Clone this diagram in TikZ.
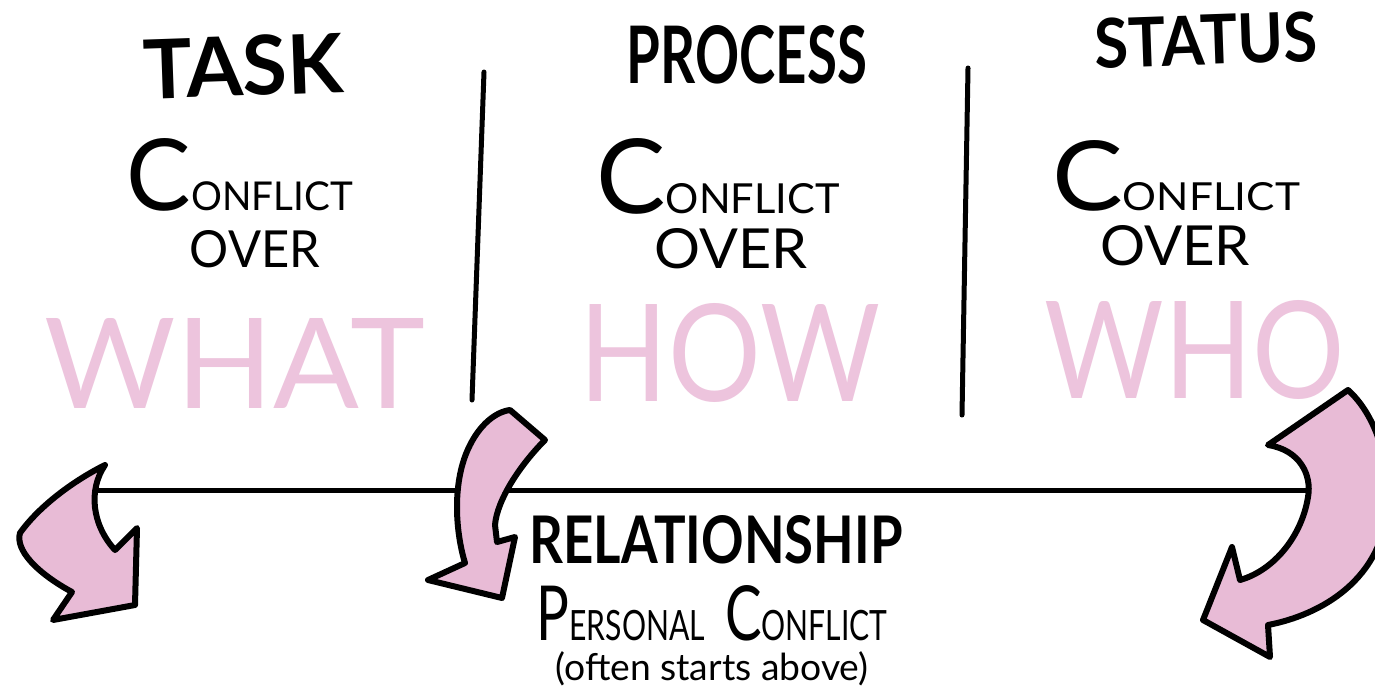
\documentclass[tikz,border=0pt]{standalone}
\usepackage{fontspec}
\setmainfont{Lato}
\definecolor{arrowpink}{RGB}{232,187,214}
\definecolor{textpink}{RGB}{237,196,221}
\newcommand\BigLet[1]{{\fontsize{100}{100}\selectfont #1}}
\newcommand\SmlLet[1]{{\fontsize{40}{40}\selectfont #1}}
\newcommand\PBig[1]{{\fontsize{60}{60}\selectfont #1}}
\newcommand\PSml[1]{{\fontsize{33}{33}\selectfont #1}}
\begin{document}
\begin{tikzpicture}[x=1pt,y=-1pt,
  txt/.style={inner sep=0pt, outer sep=0pt},
  head/.style={txt, font=\bfseries},
  pinkword/.style={txt, text=textpink},
  divider/.style={line width=5pt, line cap=round},
  bendarrow/.style={draw=black, fill=arrowpink, line width=6pt, line join=round}]
\useasboundingbox (0,0) rectangle (1375,691);
\fill[white] (0,0) rectangle (1375,691);

% headings
\node[head, rotate=2] (task) at (243,66) {\resizebox{200pt}{60pt}{TASK}};
\node[head] (process) at (747,55) {\resizebox{240pt}{58pt}{PROCESS}};
\node[head, rotate=2] (status) at (1206,40) {\resizebox{222pt}{50pt}{STATUS}};

% conflict over
\node[txt, anchor=base] (c1) at (240,210) {\resizebox{226pt}{72pt}{\BigLet{C}\SmlLet{ONFLICT}}};
\node[txt, anchor=base] (o1) at (255,267) {\resizebox{130pt}{37pt}{OVER}};
\node[txt, anchor=base] (c2) at (718,213) {\resizebox{243pt}{75pt}{\BigLet{C}\SmlLet{ONFLICT}}};
\node[txt, anchor=base] (o2) at (731,268) {\resizebox{153pt}{40pt}{OVER}};
\node[txt, anchor=base] (c3) at (1176,210) {\resizebox{248pt}{70pt}{\BigLet{C}\SmlLet{ONFLICT}}};
\node[txt, anchor=base] (o3) at (1175,265) {\resizebox{150pt}{40pt}{OVER}};

% pink words
\node[pinkword] (what) at (235,363) {\resizebox{380pt}{90pt}{WHAT}};
\node[pinkword] (how) at (730,353) {\resizebox{300pt}{98pt}{HOW}};
\node[pinkword] (who) at (1195,350) {\resizebox{300pt}{98pt}{WHO}};

% dividers
\coordinate (d1t) at (484,72);
\coordinate (d1b) at (472,400);
\coordinate (d2t) at (968,68);
\coordinate (d2b) at (962,415);
\draw[divider] (d1t) -- (d1b);
\draw[divider] (d2t) -- (d2b);

% horizontal line
\coordinate (hl) at (97,490);
\coordinate (hr) at (1310,490);
\draw[divider, line cap=butt] (hl) -- (hr);

% left arrow
\draw[bendarrow] (105,465) .. controls (88,490) and (92,525) .. (115,550)
  -- (137,528) -- (135,605) -- (53,620) -- (72,592)
  .. controls (37,573) and (15,550) .. (20,533)
  .. controls (40,505) and (75,480) .. (105,465) -- cycle;

% middle arrow
\draw[bendarrow] (510,410) -- (545,440)
  .. controls (520,465) and (497,500) .. (495,525) -- (497,542)
  -- (515,537) -- (502,598) -- (428,580) -- (465,563)
  .. controls (455,530) and (452,480) .. (470,445)
  .. controls (480,425) and (495,412) .. (510,410) -- cycle;

% right arrow
\draw[bendarrow] (1348,390) -- (1268,445)
  .. controls (1300,450) and (1312,475) .. (1308,497)
  .. controls (1302,535) and (1275,570) .. (1240,580)
  -- (1232,547) -- (1203,620) -- (1270,657) -- (1268,625)
  .. controls (1320,615) and (1385,580) .. (1388,500)
  .. controls (1388,440) and (1365,405) .. (1348,390) -- cycle;

% relationship
\node[head, anchor=base] (rel) at (716,563) {\resizebox{373pt}{48pt}{RELATIONSHIP}};
\node[txt, anchor=base] (pers) at (712,640) {\resizebox{351pt}{55pt}{\PBig{P}\PSml{ERSONAL}\hspace{22pt}\PBig{C}\PSml{ONFLICT}}};
\node[txt, anchor=base] (often) at (712,680) {\resizebox{313pt}{!}{\fontsize{30}{30}\selectfont (often starts above)}};
\end{tikzpicture}
\end{document}
